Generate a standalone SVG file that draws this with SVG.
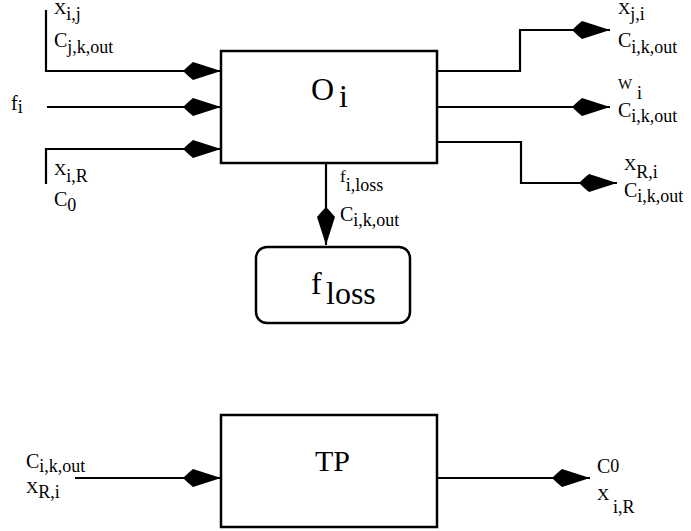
<svg xmlns="http://www.w3.org/2000/svg" width="691" height="531" viewBox="0 0 691 531">
<defs>
<marker id="dia" markerUnits="userSpaceOnUse" viewBox="0 0 38 20" refX="38" refY="10" markerWidth="38" markerHeight="20" orient="auto">
<path d="M0,10 Q5,5 10,1 L38,10 L10,19 Q5,15 0,10 Z" fill="#000"/>
</marker>
<style>
.box{fill:#fff;stroke:#000;stroke-width:2.5}
.ln{fill:none;stroke:#000;stroke-width:2.2}
.ar{marker-end:url(#dia)}
text{fill:#000;font-family:Times New Roman,Liberation Serif,DejaVu Serif,Noto Serif,Tinos,FreeSerif,serif}
.x{font-size:17px}
.c{font-size:20px}
.w{font-size:15px}
.s{font-size:18px}
.big{font-size:32px}
.tp{font-size:30px}
</style>
</defs>
<g id="connectors">
<polyline class="ln ar" points="46,10 46,71 221,71"/>
<polyline class="ln ar" points="47,107 221,107"/>
<polyline class="ln ar" points="46,184 46,149 221,149"/>
<polyline class="ln ar" points="437,71 520,71 520,30 610,30"/>
<polyline class="ln ar" points="437,107 610,107"/>
<polyline class="ln ar" points="437,142 521,142 521,183 617,183"/>
<polyline class="ln ar" points="326,163 326,245"/>
<polyline class="ln ar" points="75,478 221,478"/>
<polyline class="ln ar" points="437,478 590,478"/>
</g>
<g id="node-Oi">
<rect class="box" x="221" y="51" width="216" height="112"/>
<text x="311" y="100" class="big">O<tspan x="339" y="107">i</tspan></text>
</g>
<g id="node-floss">
<rect class="box" x="256" y="247" width="154" height="76" rx="11" ry="11"/>
<text x="311" y="294" class="big">f<tspan x="326" y="304">loss</tspan></text>
</g>
<g id="node-TP">
<rect class="box" x="221" y="415" width="216" height="112"/>
<text x="315" y="471" class="tp">TP</text>
</g>
<g id="labels">
<text x="54" y="14" class="x">X<tspan class="s" dy="6">i,j</tspan></text>
<text x="54" y="47" class="c">C<tspan class="s" dy="6">j,k,out</tspan></text>
<text x="11" y="110" class="c">f<tspan class="s" dy="3">i</tspan></text>
<text x="54" y="175" class="x">X<tspan class="s" dy="7">i,R</tspan></text>
<text x="54" y="206" class="c">C<tspan class="s" dy="5">0</tspan></text>
<text x="618" y="14" class="x">X<tspan class="s" dy="6">j,i</tspan></text>
<text x="618" y="47" class="c">C<tspan class="s" dy="6">i,k,out</tspan></text>
<text x="618" y="89" class="w">W<tspan class="s" x="637" dy="10">i</tspan></text>
<text x="618" y="117" class="c">C<tspan class="s" dy="5">i,k,out</tspan></text>
<text x="624" y="170" class="x">X<tspan class="s" dy="8">R,i</tspan></text>
<text x="624" y="197" class="c">C<tspan class="s" dy="5">i,k,out</tspan></text>
<text x="340" y="182" class="x">f<tspan class="s" dy="9">i,loss</tspan></text>
<text x="340" y="221" class="c">C<tspan class="s" dy="5">i,k,out</tspan></text>
<text x="26" y="468" class="c">C<tspan class="s" dy="4">i,k,out</tspan></text>
<text x="26" y="493" class="x">X<tspan class="s" dy="5">R,i</tspan></text>
<text x="597" y="473" class="c">C<tspan class="s" dy="-1">0</tspan></text>
<text x="597" y="500" class="x">X<tspan class="s" x="613" y="513">i,R</tspan></text>
</g>
</svg>
